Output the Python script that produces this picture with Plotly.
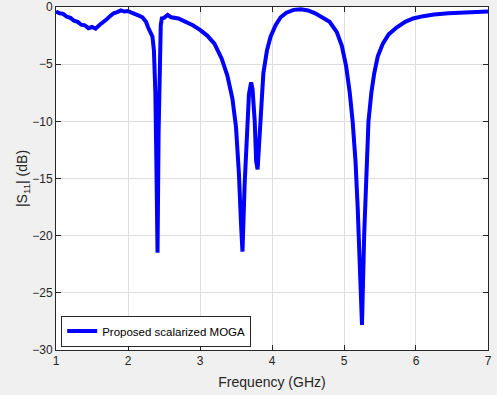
import plotly.graph_objects as go

# Reflection coefficient
freq_ghz = [1.00, 1.05, 1.10, 1.15, 1.20, 1.25, 1.30, 1.35, 1.40, 1.45, 1.50, 1.55, 1.60, 1.65,
            1.70, 1.75, 1.80, 1.85, 1.90, 1.95, 2.00, 2.05, 2.10, 2.15, 2.20, 2.25, 2.28, 2.31,
            2.34, 2.36, 2.38, 2.395, 2.41, 2.425, 2.44, 2.455, 2.47, 2.50, 2.55, 2.60, 2.70,
            2.80, 2.90, 3.00, 3.10, 3.20, 3.30, 3.38, 3.45, 3.50, 3.54, 3.57, 3.59, 3.62, 3.65,
            3.68, 3.71, 3.73, 3.76, 3.78, 3.80, 3.82, 3.85, 3.88, 3.93, 3.98, 4.05, 4.12, 4.20,
            4.30, 4.40, 4.50, 4.60, 4.70, 4.80, 4.90, 4.97, 5.03, 5.08, 5.12, 5.16, 5.19, 5.22,
            5.25, 5.28, 5.31, 5.34, 5.38, 5.42, 5.47, 5.54, 5.62, 5.73, 5.85, 5.96, 6.10, 6.25,
            6.45, 6.66, 6.85, 7.00]
s11_db = [-0.40, -0.55, -0.60, -0.85, -0.95, -1.20, -1.30, -1.55, -1.60, -1.85, -1.75, -1.90, -1.60,
          -1.40, -1.10, -0.80, -0.55, -0.45, -0.30, -0.40, -0.35, -0.50, -0.60, -0.75, -0.90,
          -1.30, -1.80, -2.20, -2.60, -3.80, -7.50, -14.0, -21.5, -11.0, -3.50, -1.60, -1.00,
          -0.95, -0.70, -0.90, -1.00, -1.30, -1.60, -2.00, -2.50, -3.20, -4.50, -6.00, -8.00,
          -10.5, -14.5, -19.0, -21.4, -15.5, -10.5, -7.60, -6.60, -7.20, -10.0, -13.5, -14.2,
          -12.0, -8.50, -5.80, -3.80, -2.60, -1.60, -0.90, -0.50, -0.25, -0.20, -0.30, -0.55,
          -0.90, -1.30, -2.20, -3.40, -5.20, -7.50, -10.0, -13.5, -17.5, -22.5, -27.8, -20.0,
          -13.5, -10.0, -7.50, -5.80, -4.30, -3.20, -2.40, -1.80, -1.30, -1.00, -0.80, -0.65,
          -0.55, -0.50, -0.45, -0.40]

x_ticks = [1, 2, 3, 4, 5, 6, 7]
y_ticks = [0, -5, -10, -15, -20, -25, -30]

fig = go.Figure()
fig.add_trace(go.Scatter(x=freq_ghz, y=s11_db, mode='lines', name='Proposed scalarized MOGA',
                         line=dict(color='#0000ff', width=4), cliponaxis=False))

axis_style = dict(showline=True, linecolor='#262626', linewidth=1, mirror='ticks',
                  ticks='inside', ticklen=5, tickcolor='#262626', automargin=False,
                  showgrid=True, gridcolor='#dedede', gridwidth=1, zeroline=False,
                  tickfont=dict(family='Liberation Sans, Arial', size=12, color='#262626'))

fig.update_layout(
    width=497, height=395,
    paper_bgcolor='#f0f0f0', plot_bgcolor='#ffffff',
    margin=dict(l=56, r=9, t=7, b=45, autoexpand=False),
    font=dict(family='Liberation Sans, Arial', color='#262626'),
    xaxis=dict(range=[1, 7.0001], tickvals=x_ticks,
               title=dict(text='Frequency (GHz)', font=dict(size=14), standoff=9),
               **axis_style),
    yaxis=dict(range=[-30, 0.0001], tickvals=y_ticks,
               title=dict(text='|S<sub>11</sub>| (dB)', font=dict(size=14), standoff=1),
               **axis_style),
    legend=dict(x=0.012, y=0.01, xanchor='left', yanchor='bottom',
                bgcolor='#ffffff', bordercolor='#262626', borderwidth=1,
                font=dict(size=11.5, color='#000000'), tracegroupgap=0,
                itemwidth=30),
    showlegend=True,
)

# the page's default body margin would shift the figure by 8px
fig.write_html("out.html", config={'displayModeBar': False},
               post_script="document.body.style.margin='0px';")
